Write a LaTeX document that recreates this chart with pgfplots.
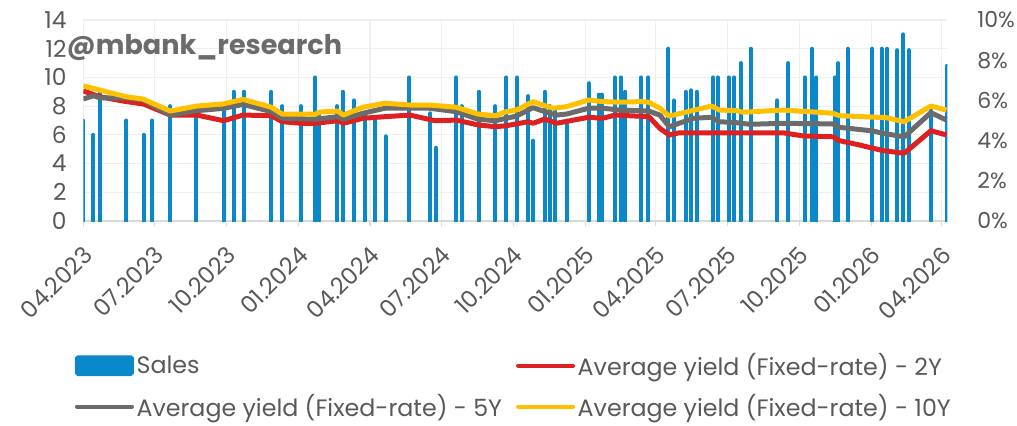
\documentclass[border=0pt]{standalone}
\usepackage{fontspec}
\setmainfont{Poppins}
\usepackage{pgfplots}
\pgfplotsset{compat=1.18}
\definecolor{barblue}{HTML}{0A88C9}
\definecolor{yred}{HTML}{DD2020}
\definecolor{ygray}{HTML}{6B6B6B}
\definecolor{yyellow}{HTML}{FFC000}
\definecolor{lblgray}{HTML}{595959}
\definecolor{gridgray}{HTML}{EFEFEF}
\definecolor{axgray}{HTML}{D9D9D9}
\begin{document}
\begin{tikzpicture}
\path[use as bounding box] (0pt,0pt) rectangle (762.75pt,318.75pt);
\begin{axis}[
 at={(62.475pt,153pt)}, anchor=south west,
 scale only axis, width=648pt, height=150.75pt,
 xmin=0, xmax=1103, ymin=0, ymax=14,
 xtick={0,91,183,275,366,457,549,641,731,822,914,1006,1096},
 xticklabels={04.2023,07.2023,10.2023,01.2024,04.2024,07.2024,10.2024,01.2025,04.2025,07.2025,10.2025,01.2026,04.2026},
 ytick={0,2,4,6,8,10,12,14},
 /pgf/number format/assume math mode=true,
 grid=major, major grid style={gridgray, line width=0.8pt},
 axis x line*=bottom, axis y line*=left,
 x axis line style={axgray, line width=1.5pt, -},
 y axis line style={draw=none},
 xtick style={axgray, line width=0.8pt}, ytick style={draw=none},
 tick align=outside, major tick length=4pt,
 tick label style={font=\fontsize{17.5}{20}\selectfont, text=lblgray},
 xticklabel style={xshift=6pt, yshift=-16pt, rotate=45, anchor=east},
 yticklabel style={anchor=east, xshift=-5pt},
 legend columns=2,
 legend cell align=left,
 legend style={at={(axis description cs:-0.01,-0.645)}, anchor=north west, draw=none, fill=none,
   inner sep=0pt, font=\fontsize{17.8}{20}\selectfont, text=lblgray, row sep=8.5pt,
   /tikz/column 2/.style={column sep=8.5pt}},
 legend image code/.code={\draw[#1] (0pt,0pt) -- (41.25pt,0pt);},
]
\addplot[ycomb, barblue, line width=3pt, line cap=round, mark=none,
  legend image code/.code={\fill[barblue, rounded corners=1pt] (0pt,-6.3pt) rectangle (41.25pt,6.3pt);}]
 table[row sep=\\] {
x y\\
0 7\\ 13 6\\ 21 9\\ 55 7\\ 77 6\\ 88 7\\ 111 8\\ 144 8\\ 179 8\\ 192 9\\ 205 9\\
240 9\\ 254 8\\ 278 8\\ 296 10\\ 301 7.5\\ 324 8\\ 331 9\\ 346 8.4\\ 359 7.5\\ 373 7\\
386 5.9\\ 416 10\\ 443 7.5\\ 450 5.1\\ 476 10\\ 483 8\\ 505 9\\ 526 8\\ 540 10\\ 554 10\\
568 8.7\\ 574 5.6\\ 589 9\\ 596 8\\ 602 7.8\\ 617 7\\ 645 9.6\\ 658 8.8\\ 662 8.8\\ 679 10\\
686 10\\ 692 9\\ 712 10\\ 721 10\\ 747 12\\ 754 8.4\\ 769 9\\ 776 9.1\\ 783 9\\ 804 10\\
810 10\\ 824 10\\ 831 10\\ 839 11\\ 852 12\\ 886 8.4\\ 900 11\\ 921 10\\ 930 12\\ 936 10\\
959 10\\ 964 11\\ 976 12\\ 1007 12\\ 1019 12\\ 1026 12\\ 1039 11.9\\ 1047 13\\ 1054 11.9\\
1082 7.7\\ 1102 10.8\\
};
\addlegendentry{Sales}
\addlegendimage{yred, line width=3pt, line cap=round}
\addlegendentry{Average yield (Fixed-rate) - 2Y}
\addlegendimage{ygray, line width=3pt, line cap=round}
\addlegendentry{Average yield (Fixed-rate) - 5Y}
\addlegendimage{yyellow, line width=3pt, line cap=round}
\addlegendentry{Average yield (Fixed-rate) - 10Y}
\end{axis}
\begin{axis}[
 at={(62.475pt,153pt)}, anchor=south west,
 scale only axis, width=648pt, height=150.75pt,
 xmin=0, xmax=1103, ymin=0, ymax=10,
 axis x line=none, axis y line*=right,
 y axis line style={draw=none}, ytick style={draw=none},
 ytick={0,2,4,6,8,10},
 yticklabels={0\%,2\%,4\%,6\%,8\%,10\%},
 /pgf/number format/assume math mode=true,
 tick label style={font=\fontsize{16.5}{20}\selectfont, text=lblgray},
 yticklabel style={anchor=west, xshift=19pt},
 every axis plot/.append style={line width=3.75pt, line join=round, mark=none},
]
\addplot[yred] table[row sep=\\] {
x y\\
0 6.47\\ 21 6.18\\ 55 5.94\\ 77 5.82\\ 111 5.27\\ 145 5.27\\ 179 4.99\\ 204 5.27\\ 240 5.24\\
254 4.94\\ 278 4.86\\ 296 4.86\\ 325 4.99\\ 332 4.86\\ 357 5.11\\ 385 5.19\\ 417 5.27\\ 449 4.99\\
476 5.02\\ 504 4.78\\ 526 4.69\\ 540 4.74\\ 568 4.94\\ 574 4.86\\ 589 5.07\\ 604 4.86\\ 645 5.16\\
663 5.11\\ 679 5.27\\ 722 5.19\\ 736 4.61\\ 748 4.28\\ 761 4.39\\ 893 4.39\\ 919 4.23\\ 957 4.19\\
965 4.00\\ 991 3.78\\ 1021 3.50\\ 1048 3.37\\ 1082 4.49\\ 1102 4.28\\
};
\addplot[ygray] table[row sep=\\] {
x y\\
0 6.07\\ 13 6.23\\ 21 6.13\\ 55 6.13\\ 77 6.02\\ 111 5.27\\ 145 5.49\\ 178 5.60\\ 204 5.80\\
240 5.44\\ 254 5.11\\ 296 5.06\\ 325 5.19\\ 332 5.06\\ 357 5.36\\ 385 5.61\\ 442 5.61\\ 476 5.44\\
504 5.06\\ 526 4.99\\ 553 5.22\\ 574 5.64\\ 589 5.44\\ 604 5.27\\ 617 5.32\\ 645 5.61\\ 663 5.61\\
685 5.52\\ 722 5.47\\ 736 5.27\\ 748 4.69\\ 779 5.11\\ 802 5.16\\ 812 4.94\\ 834 4.89\\ 851 4.81\\
893 4.86\\ 957 4.83\\ 965 4.66\\ 1008 4.48\\ 1021 4.36\\ 1048 4.19\\ 1082 5.39\\ 1102 5.02\\
};
\addplot[yyellow] table[row sep=\\] {
x y\\
0 6.72\\ 55 6.18\\ 76 6.07\\ 111 5.47\\ 145 5.72\\ 178 5.82\\ 204 6.05\\ 240 5.66\\ 254 5.32\\
296 5.31\\ 302 5.42\\ 325 5.47\\ 332 5.27\\ 357 5.66\\ 385 5.86\\ 417 5.77\\ 442 5.77\\ 476 5.66\\
504 5.32\\ 526 5.24\\ 540 5.44\\ 553 5.52\\ 574 5.94\\ 589 5.74\\ 600 5.61\\ 617 5.69\\ 645 6.02\\
663 5.94\\ 685 5.91\\ 712 5.94\\ 722 5.91\\ 736 5.61\\ 748 5.22\\ 802 5.72\\ 812 5.52\\ 834 5.49\\
842 5.41\\ 893 5.52\\ 957 5.36\\ 965 5.24\\ 1025 5.14\\ 1048 4.94\\ 1082 5.72\\ 1102 5.52\\
};
\end{axis}
\node[anchor=west, text=ygray, font=\fontsize{20.3}{24}\selectfont\bfseries] at (46.5pt,282.75pt) {@mbank\_research};
\end{tikzpicture}
\end{document}
